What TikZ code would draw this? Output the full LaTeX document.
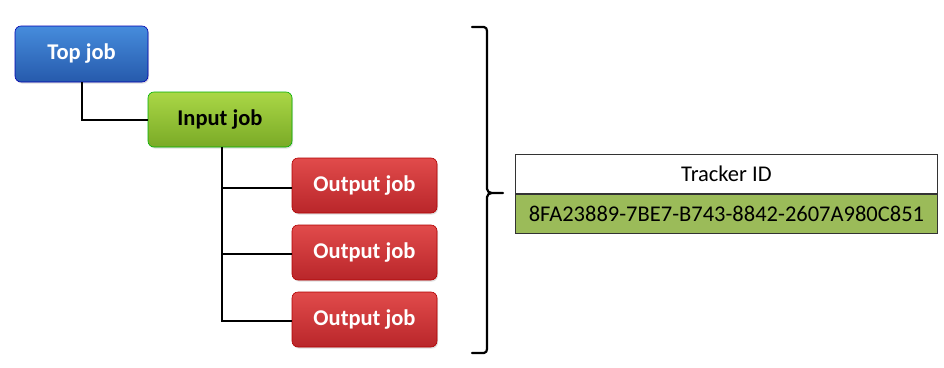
\documentclass[tikz,border=0pt]{standalone}
\usepackage{fontspec}
\setmainfont{Carlito}
\usetikzlibrary{shadows}
\begin{document}
\begin{tikzpicture}[x=1pt,y=-1pt,
  jobbox/.style={rounded corners=6pt, draw=#1!70!black, line width=0.6pt, drop shadow={opacity=0.25,shadow xshift=1pt,shadow yshift=-1.5pt}},
  jobtext/.style={font=\bfseries\fontsize{22.5}{26}\selectfont},
  conn/.style={line width=2.2pt, black},
  cell/.style={draw=black!80, line width=0.8pt, minimum width=422pt, minimum height=39pt, inner sep=0pt, font=\fontsize{22.5}{26}\selectfont}
]
\useasboundingbox (0,0) rectangle (944,367);
\fill[white] (0,0) rectangle (944,367);
% boxes
\shade[jobbox=blue, top color={rgb,255:red,70;green,140;blue,220}, bottom color={rgb,255:red,38;green,90;blue,172}] (15,26) rectangle (148,82);
\node[jobtext, text=white] (top) at (81.5,54) {Top job};
\shade[jobbox=green, top color={rgb,255:red,170;green,215;blue,70}, bottom color={rgb,255:red,122;green,170;blue,38}] (148,92) rectangle (292,147);
\node[jobtext, text=black] (inp) at (220,119.5) {Input job};
\foreach \i/\ya/\yb in {1/158/213, 2/225/280, 3/292/347}{
  \shade[jobbox=red, top color={rgb,255:red,225;green,75;blue,75}, bottom color={rgb,255:red,185;green,38;blue,42}] (292,\ya) rectangle (437,\yb);
  \node[jobtext, text=white] (out\i) at (364.5,{(\ya+\yb)/2}) {Output job};
}
% connector anchors
\coordinate (topb) at (82,82);
\coordinate (inl) at (148,120);
\coordinate (inb) at (222,147);
\coordinate (o1l) at (292,188);
\coordinate (o2l) at (292,254);
\coordinate (o3l) at (292,321);
\draw[conn] (topb) |- (inl);
\draw[conn] (inb) |- (o3l);
\draw[conn] (inb |- o1l) -- (o1l);
\draw[conn] (inb |- o2l) -- (o2l);
% brace
\coordinate (bt) at (472,27);
\coordinate (bb) at (472,353);
\coordinate (bm) at (503,193);
\draw[line width=2.2pt, line cap=round, line join=round]
  (bt) -- (484,27) to[out=0,in=90] (487,31) -- (487,189) to[out=-90,in=180] (492,193) -- (bm)
  (bb) -- (484,353) to[out=0,in=-90] (487,349) -- (487,197) to[out=90,in=180] (492,193);
% table
\node[cell, fill=white, anchor=north west] (hdr) at (515,154) {Tracker ID};
\node[cell, fill={rgb,255:red,155;green,187;blue,89}, anchor=north] (val) at (hdr.south) {8FA23889-7BE7-B743-8842-2607A980C851};
\end{tikzpicture}
\end{document}
